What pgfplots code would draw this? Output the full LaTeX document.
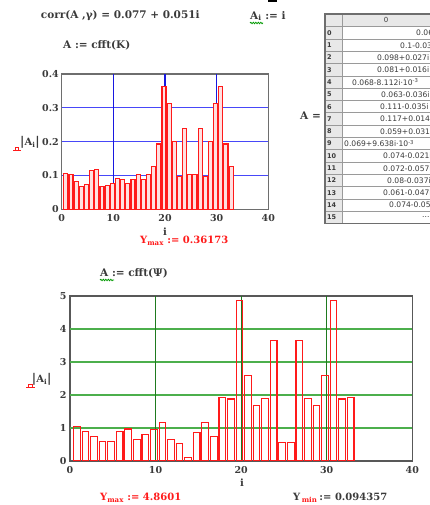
\documentclass[border=0pt]{standalone}
\usepackage{fontspec}
\setmainfont{DejaVu Serif}
\newfontfamily\tabfont{DejaVu Sans}
\usepackage{pgfplots}
\pgfplotsset{compat=1.18}
\usetikzlibrary{decorations.pathmorphing}
\definecolor{txt}{HTML}{3A3A3A}
\definecolor{framegray}{HTML}{6E6E6E}
\definecolor{gblueh}{HTML}{4848F8}
\definecolor{gbluev}{HTML}{1818E0}
\definecolor{ggreenh}{HTML}{4CAF4C}
\definecolor{ggreenv}{HTML}{1F7A1F}
\definecolor{mred}{HTML}{FF1A1A}
\definecolor{cellgray}{HTML}{E8E8E8}
\definecolor{linegray}{HTML}{9A9A9A}

\pgfplotstableread{
i v
1 0.106
2 0.102
3 0.083
4 0.068
5 0.073
6 0.116
7 0.118
8 0.067
9 0.070
10 0.077
11 0.092
12 0.088
13 0.077
14 0.089
15 0.103
16 0.089
17 0.103
18 0.126
19 0.193
20 0.36173
21 0.312
22 0.200
23 0.098
24 0.240
25 0.103
26 0.103
27 0.240
28 0.098
29 0.200
30 0.312
31 0.36173
32 0.193
33 0.126
}\topdata

\pgfplotstableread{
i v
1 1.04
2 0.90
3 0.73
4 0.58
5 0.58
6 0.89
7 0.97
8 0.65
9 0.80
10 0.95
11 1.18
12 0.66
13 0.52
14 0.094357
15 0.87
16 1.16
17 0.73
18 1.93
19 1.88
20 4.8601
21 2.60
22 1.69
23 1.90
24 3.64
25 0.57
26 0.57
27 3.64
28 1.90
29 1.69
30 2.60
31 4.8601
32 1.88
33 1.93
}\botdata

\begin{document}
\begin{tikzpicture}[x=1pt,y=1pt]
\useasboundingbox (0,0) rectangle (430,505);

% ---------- top chart ----------
\begin{axis}[
  at={(61.7pt,295.7pt)}, anchor=south west, scale only axis,
  width=206.6pt, height=135.3pt,
  xmin=0, xmax=40, ymin=0, ymax=0.4,
  xtick={0,10,20,30,40}, ytick={0,0.1,0.2,0.3,0.4},
  xticklabels={0,10,20,30,40}, yticklabels={0,0.1,0.2,0.3,0.4},
  major tick length=0pt,
  axis line style={color=framegray, line width=1.4pt},
  tick label style={font=\bfseries\fontsize{9.5}{10}\selectfont, color=txt},
  xticklabel style={yshift=-2pt},
  yticklabel style={xshift=0.5pt},
  /pgf/number format/assume math mode=true,
  ybar, bar width=0.78,
]
\draw[color=gblueh, line width=1.3pt] (axis cs:0,0.1) -- (axis cs:40,0.1);
\draw[color=gblueh, line width=1.3pt] (axis cs:0,0.2) -- (axis cs:40,0.2);
\draw[color=gblueh, line width=1.3pt] (axis cs:0,0.3) -- (axis cs:40,0.3);
\draw[color=gbluev, line width=1.3pt] (axis cs:10,0) -- (axis cs:10,0.4);
\draw[color=gbluev, line width=1.3pt] (axis cs:20,0) -- (axis cs:20,0.4);
\draw[color=gbluev, line width=1.3pt] (axis cs:30,0) -- (axis cs:30,0.4);
\addplot[color=mred, fill=red!12, line width=1.1pt, bar shift=-0.2] table[x=i, y=v] {\topdata};
\end{axis}

% ---------- bottom chart ----------
\begin{axis}[
  at={(70pt,44pt)}, anchor=south west, scale only axis,
  width=342.3pt, height=165pt,
  xmin=0, xmax=40, ymin=0, ymax=5,
  xtick={0,10,20,30,40}, ytick={0,1,2,3,4,5},
  xticklabels={0,10,20,30,40}, yticklabels={0,1,2,3,4,5},
  major tick length=0pt,
  axis line style={color=framegray!80!black, line width=1.4pt},
  tick label style={font=\bfseries\fontsize{9.5}{10}\selectfont, color=txt},
  xticklabel style={yshift=-1.5pt},
  /pgf/number format/assume math mode=true,
  ybar, bar width=0.78,
]
\draw[color=ggreenh, line width=1.3pt] (axis cs:0,1) -- (axis cs:40,1);
\draw[color=ggreenh, line width=1.3pt] (axis cs:0,2) -- (axis cs:40,2);
\draw[color=ggreenh, line width=1.3pt] (axis cs:0,3) -- (axis cs:40,3);
\draw[color=ggreenh, line width=1.3pt] (axis cs:0,4) -- (axis cs:40,4);
\draw[color=ggreenv, line width=1.3pt] (axis cs:10,0) -- (axis cs:10,5);
\draw[color=ggreenv, line width=1.3pt] (axis cs:20,0) -- (axis cs:20,5);
\draw[color=ggreenv, line width=1.3pt] (axis cs:30,0) -- (axis cs:30,5);
\addplot[color=mred, fill=none, line width=1.1pt, bar shift=-0.2] table[x=i, y=v] {\botdata};
\end{axis}

% ---------- header formulas ----------
\begin{scope}[every node/.style={inner sep=0pt, color=txt, font=\bfseries\fontsize{10.5}{12}\selectfont}]
\node[anchor=west] at (40.7,489) {corr(A ,γ) = 0.077 + 0.051i};
\node[anchor=west] at (250,489) {A\textsubscript{i} := i};
\node[anchor=west] at (63,460) {A := cfft(K)};
\node[anchor=west] at (300,389) {A =};
\node[anchor=west] at (100,232) {A := cfft(Ψ)};
\end{scope}
\draw[color=green!60!black, line width=0.8pt, decorate, decoration={snake, amplitude=0.7pt, segment length=2.5pt}] (250,482) -- (263,482);
\draw[color=green!60!black, line width=0.8pt, decorate, decoration={snake, amplitude=0.7pt, segment length=2.5pt}] (100,225) -- (114,225);
\fill[color=black] (268,503) rectangle (277,505);

% ---------- table ----------
\fill[color=cellgray] (325,491) rectangle (432,478.3);
\fill[color=cellgray] (325,478.3) rectangle (342,281.5);
\foreach \k in {0,...,16}{
  \draw[color=linegray, line width=0.6pt] (325,{478.3-12.3*\k}) -- (432,{478.3-12.3*\k});
}
\draw[color=linegray, line width=0.6pt] (342,491) -- (342,281.5);
\draw[color=framegray, line width=1.1pt] (432,491) -- (325,491) -- (325,281.5) -- (432,281.5);
\node[inner sep=0pt, font=\tabfont\fontsize{7}{8}\selectfont, color=txt] at (386,484.6) {0};
\foreach \k in {0,...,15}{
  \node[anchor=west, inner sep=0pt, font=\tabfont\bfseries\fontsize{6.5}{7}\selectfont, color=txt] at (327,{472.1-12.3*\k}) {\k};
}
\begin{scope}[every node/.style={anchor=west, inner sep=0pt, font=\tabfont\fontsize{7.6}{8}\selectfont, color=txt}]
\node at (416,472.1) {0.062+0.08i};
\node at (400,459.8) {0.1-0.036i};
\node at (377,447.5) {0.098+0.027i};
\node at (377,435.2) {0.081+0.016i};
\node at (352,422.9) {0.068-8.112i·10\textsuperscript{-3}};
\node at (381,410.6) {0.063-0.036i};
\node at (380,398.3) {0.111-0.035i};
\node at (380,386.0) {0.117+0.014i};
\node at (380,373.7) {0.059+0.031i};
\node at (344,361.4) {0.069+9.638i·10\textsuperscript{-3}};
\node at (383,349.1) {0.074-0.021i};
\node at (383,336.8) {0.072-0.057i};
\node at (387,324.5) {0.08-0.037i};
\node at (383,312.2) {0.061-0.047i};
\node at (389,299.9) {0.074-0.05i};
\node at (422,287.6) {...};
\end{scope}

% ---------- labels ----------
\begin{scope}[every node/.style={inner sep=0pt, font=\bfseries\fontsize{10}{12}\selectfont}]
\node[anchor=west, color=txt] at (20,363) {{\fontsize{12}{13}\selectfont|}A\textsubscript{i}{\fontsize{12}{13}\selectfont|}};
\node[color=txt] at (165,273) {i};
\node[anchor=west, color=mred] at (140,264) {Y\textsubscript{max} := 0.36173};
\node[anchor=west, color=txt] at (31.7,126) {{\fontsize{12}{13}\selectfont|}A\textsubscript{i}{\fontsize{12}{13}\selectfont|}};
\node[color=txt] at (242,22) {i};
\node[anchor=west, color=mred] at (100,7) {Y\textsubscript{max} := 4.8601};
\node[anchor=west, color=txt] (ymn) at (293,7) {Y\textsubscript{\phantom{min}} := 0.094357};
\node[anchor=base west, color=mred] at ([xshift=8.6pt,yshift=-2.2pt]ymn.base west) {\fontsize{7}{8}\selectfont min};
\end{scope}
% placeholder marks
\draw[color=mred, line width=1pt] (13,354) -- (21,354);
\draw[color=mred, line width=0.8pt] (15,354) -- (15,358) -- (18,358) -- (18,354);
\draw[color=mred, line width=1pt] (26,117) -- (35,117);
\draw[color=mred, line width=0.8pt] (28.5,117) -- (28.5,121) -- (32,121) -- (32,117);
\end{tikzpicture}
\end{document}
